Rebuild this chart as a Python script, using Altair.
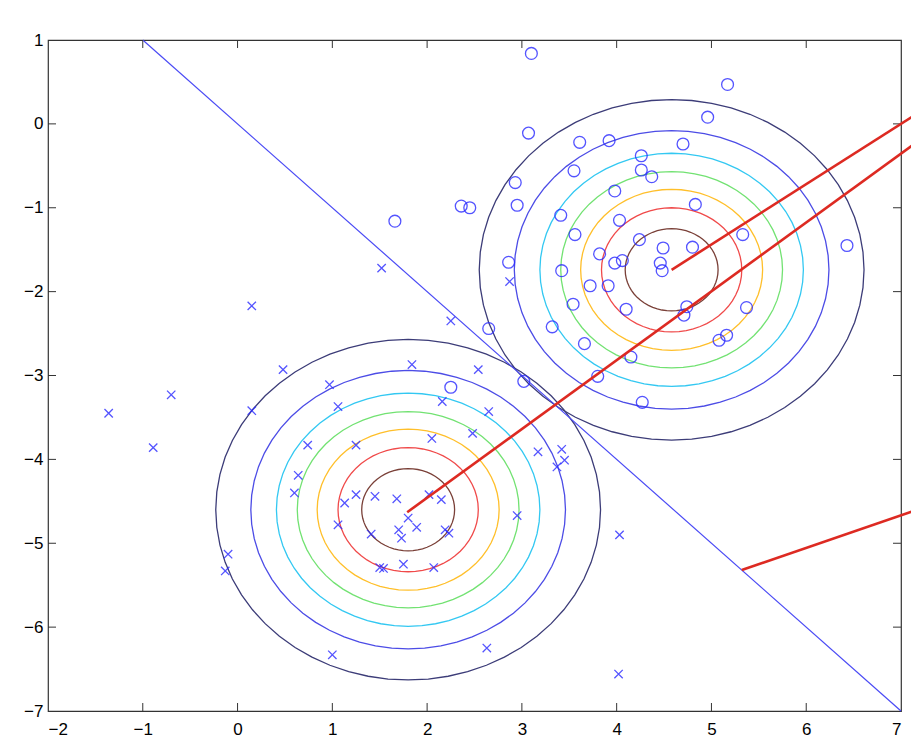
import altair as alt
import pandas as pd

# ---- data ----
class1_x = [3.10, 5.17, 4.96, 3.07, 3.61, 3.92, 4.70, 4.26, 4.26, 4.37, 3.55, 2.93, 3.98, 4.83, 2.36,
            2.45, 1.66, 2.95, 3.41, 4.03, 3.56, 4.24, 5.33, 6.43, 4.49, 4.80, 2.86, 3.42, 3.82, 3.98,
            4.06, 4.46, 4.48, 3.72, 3.91, 3.54, 4.10, 4.74, 4.71, 5.37, 2.65, 3.32, 3.66, 5.16, 5.08,
            4.15, 3.02, 2.25, 3.80, 4.27]
class1_y = [0.84, 0.47, 0.08, -0.11, -0.22, -0.20, -0.24, -0.38, -0.55, -0.63, -0.56, -0.70, -0.80, -0.96, -0.98,
            -1.00, -1.16, -0.97, -1.09, -1.15, -1.32, -1.38, -1.32, -1.45, -1.48, -1.47, -1.65, -1.75, -1.55, -1.66,
            -1.63, -1.66, -1.75, -1.93, -1.93, -2.15, -2.21, -2.18, -2.28, -2.19, -2.44, -2.42, -2.62, -2.52, -2.58,
            -2.78, -3.07, -3.14, -3.01, -3.32]

class2_x = [0.15, 1.52, -1.36, -0.70, -0.89, 0.15, 0.48, 0.97, 1.06, 1.84, 2.54, 2.16, 2.65, 0.74, 1.25,
            2.05, 2.48, 0.64, 0.60, 3.17, 3.42, 3.45, 3.37, 1.13, 1.25, 1.45, 1.68, 2.02, 2.15, 1.06,
            1.80, 1.70, 1.89, 1.73, 1.41, 2.23, 2.95, 1.50, 1.54, 1.75, 2.07, -0.10, -0.13, 4.03, 1.00,
            2.63, 4.02, 2.87, 2.25, 2.19]
class2_y = [-2.17, -1.72, -3.45, -3.23, -3.86, -3.42, -2.93, -3.11, -3.37, -2.87, -2.93, -3.31, -3.43, -3.83, -3.83,
            -3.75, -3.69, -4.19, -4.40, -3.91, -3.88, -4.01, -4.09, -4.52, -4.42, -4.44, -4.47, -4.42, -4.48, -4.78,
            -4.70, -4.84, -4.81, -4.94, -4.89, -4.88, -4.67, -5.29, -5.30, -5.25, -5.29, -5.13, -5.33, -4.90, -6.33,
            -6.25, -6.56, -1.88, -2.35, -4.84]

centers_x = [4.58, 1.80]
centers_y = [-1.74, -4.60]
contour_radii = [0.49, 0.74, 0.96, 1.17, 1.39, 1.66, 2.03]
contour_colors = ["#7a4038", "#f04a4a", "#ffbf2a", "#72e272", "#33c8f2", "#4c4ce6", "#3c3c78"]

boundary_x = [-1.0, 7.0]
boundary_y = [1.0, -7.0]

red_x1 = [4.58, 1.79, 5.32]
red_y1 = [-1.74, -4.63, -5.32]
red_x2 = [7.25, 7.25, 7.25]
red_y2 = [0.18, -0.15, -4.57]

x_ticks = [-2, -1, 0, 1, 2, 3, 4, 5, 6, 7]
y_ticks = [-7, -6, -5, -4, -3, -2, -1, 0, 1]

W, H = 853, 671
TICK = 8

xs = alt.Scale(domain=[-2, 7], nice=False, zero=False)
ys = alt.Scale(domain=[-7, 1], nice=False, zero=False)

xax = alt.Axis(values=x_ticks, ticks=False, tickSize=0, domain=False, grid=False,
               labelPadding=10, title=None, format="d")
yax = alt.Axis(values=y_ticks, ticks=False, tickSize=0, domain=False, grid=False,
               labelPadding=5, title=None, format="d")

# contours
rings = []
for ci in range(len(centers_x)):
    for ri, (r, c) in enumerate(zip(contour_radii, contour_colors)):
        rings.append({"cx": centers_x[ci], "cy": centers_y[ci], "r": r, "col": c,
                      "ring": f"{ci}-{ri}"})
rings_df = pd.DataFrame(rings)

contours = alt.Chart(rings_df).transform_calculate(
    ang="sequence(0, 366, 6)"
).transform_flatten(["ang"]).transform_calculate(
    px="datum.cx + datum.r * cos(datum.ang * PI / 180)",
    py="datum.cy + datum.r * sin(datum.ang * PI / 180)",
).mark_line(strokeWidth=1.3, interpolate="linear").encode(
    x=alt.X("px:Q", scale=xs, axis=xax),
    y=alt.Y("py:Q", scale=ys, axis=yax),
    color=alt.Color("col:N", scale=None),
    detail="ring:N",
    order="ang:Q",
)

bdf = pd.DataFrame({"x": boundary_x, "y": boundary_y})
boundary = alt.Chart(bdf).mark_line(color="#4a4af5", strokeWidth=1.2).encode(
    x=alt.X("x:Q", scale=xs, axis=xax), y=alt.Y("y:Q", scale=ys, axis=yax)
)

c1 = pd.DataFrame({"x": class1_x, "y": class1_y})
c2 = pd.DataFrame({"x": class2_x, "y": class2_y})

circles = alt.Chart(c1).mark_point(shape="circle", filled=False, size=140, color="#2a2aff",
                                   strokeWidth=1.3, opacity=0.8).encode(
    x=alt.X("x:Q", scale=xs, axis=xax), y=alt.Y("y:Q", scale=ys, axis=yax)
)
crosses = alt.Chart(c2).mark_point(shape="M-1,-1L1,1M-1,1L1,-1", filled=False, size=70,
                                   color="#2a2aff", strokeWidth=1.3, opacity=0.8).encode(
    x=alt.X("x:Q", scale=xs, axis=xax), y=alt.Y("y:Q", scale=ys, axis=yax)
)

rdf = pd.DataFrame({"x": red_x1, "y": red_y1, "x2": red_x2, "y2": red_y2})
red = alt.Chart(rdf).mark_rule(color="#dd2a22", strokeWidth=2.6, clip=False).encode(
    x=alt.X("x:Q", scale=xs, axis=xax), y=alt.Y("y:Q", scale=ys, axis=yax),
    x2="x2:Q", y2="y2:Q"
)

# inward ticks on all four sides
xt = pd.DataFrame({"v": x_ticks[1:-1]})
yt = pd.DataFrame({"v": y_ticks[1:-1]})
xt_bottom = alt.Chart(xt).mark_rule(color="#333333", strokeWidth=1).encode(
    x=alt.X("v:Q", scale=xs, axis=xax), y=alt.value(H), y2=alt.value(H - TICK))
xt_top = alt.Chart(xt).mark_rule(color="#333333", strokeWidth=1).encode(
    x=alt.X("v:Q", scale=xs, axis=xax), y=alt.value(0), y2=alt.value(TICK))
yt_left = alt.Chart(yt).mark_rule(color="#333333", strokeWidth=1).encode(
    y=alt.Y("v:Q", scale=ys, axis=yax), x=alt.value(0), x2=alt.value(TICK))
yt_right = alt.Chart(yt).mark_rule(color="#333333", strokeWidth=1).encode(
    y=alt.Y("v:Q", scale=ys, axis=yax), x=alt.value(W - TICK), x2=alt.value(W))

chart = alt.layer(
    contours, boundary, circles, crosses, xt_bottom, xt_top, yt_left, yt_right, red
).properties(
    width=W, height=H,
    autosize=alt.AutoSizeParams(type="none"),
    padding={"left": 40, "top": 32, "right": 10, "bottom": 41},
).configure_view(
    stroke="#333333", strokeWidth=1.2
).configure_axis(
    labelFont="Liberation Sans", labelFontSize=17, labelColor="#000000"
)

chart.save("out.html", embed_options={"renderer": "svg", "actions": False})
